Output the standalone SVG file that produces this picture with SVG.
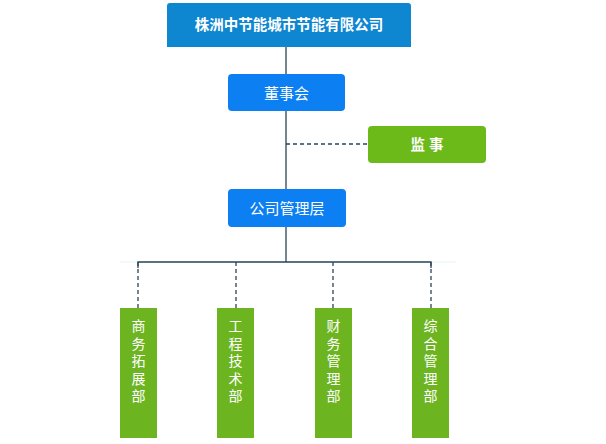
<svg xmlns="http://www.w3.org/2000/svg" width="606" height="444" viewBox="0 0 606 444">
<defs>
<style>
.t{font-family:"Liberation Sans","Noto Sans CJK SC",sans-serif;fill:#fff;text-anchor:middle;dominant-baseline:central}
.ln{stroke:#2b4458;stroke-width:1.3;fill:none}
.dl{stroke:#2b4458;stroke-width:1.3;fill:none;stroke-dasharray:4 3}
.blue{fill:#0c7ff2}
.green{fill:#6cb91a}
.dept{fill:#6cb521}
</style>
</defs>
<rect width="606" height="444" fill="#fff"/>
<g id="connectors">
<line x1="120" y1="262" x2="456" y2="262" stroke="#e4f4f7" stroke-width="1"/>
<line class="ln" x1="286" y1="47" x2="286" y2="74"/>
<line class="ln" x1="286" y1="111" x2="286" y2="189"/>
<line class="dl" x1="286" y1="144" x2="368" y2="144"/>
<line class="ln" x1="286" y1="227" x2="286" y2="262"/>
<polyline class="ln" points="138,268 138,262 431,262 431,268"/>
<line class="dl" x1="138" y1="262" x2="138" y2="308"/>
<line class="dl" x1="236" y1="262" x2="236" y2="308"/>
<line class="dl" x1="333" y1="262" x2="333" y2="308"/>
<line class="dl" x1="431" y1="262" x2="431" y2="308"/>
</g>
<g id="company">
<path d="M167,6 Q167,3 170,3 L408,3 Q411,3 411,6 L411,47 L167,47 Z" fill="#0f86d0"/>
<text class="t" x="289" y="25" font-size="14.5" font-weight="bold">株洲中节能城市节能有限公司</text>
</g>
<g id="board">
<rect class="blue" x="228" y="74" width="117" height="37" rx="4"/>
<text class="t" x="286.5" y="93" font-size="15">董事会</text>
</g>
<g id="supervisor">
<rect class="green" x="368" y="126" width="118" height="37" rx="4"/>
<text class="t" x="427" y="145" font-size="14.5" font-weight="bold">监 事</text>
</g>
<g id="management">
<rect class="blue" x="228" y="189" width="118" height="38" rx="4"/>
<text class="t" x="287" y="208.5" font-size="15">公司管理层</text>
</g>
<g id="dept1">
<rect class="dept" x="120" y="308" width="37" height="130"/>
<text class="t" font-size="14"><tspan x="138.5" y="326">商</tspan><tspan x="138.5" y="343.5">务</tspan><tspan x="138.5" y="361">拓</tspan><tspan x="138.5" y="378.5">展</tspan><tspan x="138.5" y="396">部</tspan></text>
</g>
<g id="dept2">
<rect class="dept" x="217" y="308" width="37" height="130"/>
<text class="t" font-size="14"><tspan x="235.5" y="326">工</tspan><tspan x="235.5" y="343.5">程</tspan><tspan x="235.5" y="361">技</tspan><tspan x="235.5" y="378.5">术</tspan><tspan x="235.5" y="396">部</tspan></text>
</g>
<g id="dept3">
<rect class="dept" x="315" y="308" width="37" height="130"/>
<text class="t" font-size="14"><tspan x="333.5" y="326">财</tspan><tspan x="333.5" y="343.5">务</tspan><tspan x="333.5" y="361">管</tspan><tspan x="333.5" y="378.5">理</tspan><tspan x="333.5" y="396">部</tspan></text>
</g>
<g id="dept4">
<rect class="dept" x="412" y="308" width="37" height="130"/>
<text class="t" font-size="14"><tspan x="430.5" y="326">综</tspan><tspan x="430.5" y="343.5">合</tspan><tspan x="430.5" y="361">管</tspan><tspan x="430.5" y="378.5">理</tspan><tspan x="430.5" y="396">部</tspan></text>
</g>
</svg>
